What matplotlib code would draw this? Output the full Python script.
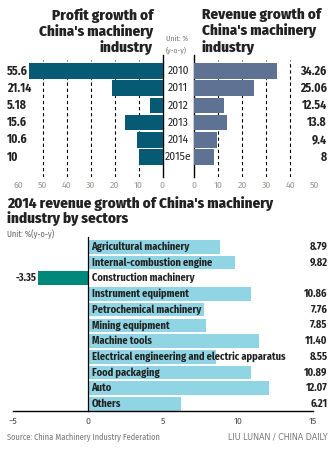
import matplotlib
matplotlib.use("Agg")
import matplotlib.pyplot as plt
import matplotlib.transforms as mtransforms

plt.rcParams['font.family'] = ['Fira Sans Condensed', 'DejaVu Sans']

years = ["2010", "2011", "2012", "2013", "2014", "2015e"]
profit = [55.6, 21.14, 5.18, 15.6, 10.6, 10]
profit_labels = ["55.6", "21.14", "5.18", "15.6", "10.6", "10"]
revenue = [34.26, 25.06, 12.54, 13.8, 9.4, 8]
revenue_labels = ["34.26", "25.06", "12.54", "13.8", "9.4", "8"]

sectors = ["Agricultural machinery", "Internal-combustion engine",
           "Construction machinery", "Instrument equipment",
           "Petrochemical machinery", "Mining equipment", "Machine tools",
           "Electrical engineering and electric apparatus", "Food packaging",
           "Auto", "Others"]
sector_growth = [8.79, 9.82, -3.35, 10.86, 7.76, 7.85, 11.40, 8.55, 10.89, 12.07, 6.21]
sector_labels = ["8.79", "9.82", "-3.35", "10.86", "7.76", "7.85", "11.40",
                 "8.55", "10.89", "12.07", "6.21"]

W, H = 335, 449
DARK = "#222222"
GREY = "#a09a94"


def box(x0, y0, x1, y1):
    # pixel box (top-left origin) -> figure fraction rect
    return [x0 / W, 1 - y1 / H, (x1 - x0) / W, (y1 - y0) / H]


fig = plt.figure(figsize=(3.35, 4.49), dpi=100)

# profit growth (left, mirrored)
ax1 = fig.add_axes(box(18.5, 55, 162.5, 177))
rows = range(len(years))
ax1.barh(rows, profit, height=0.9, color="#065a73", zorder=3)
ax1.set_xlim(60, 0)
ax1.set_ylim(6.16, -0.93)
for v in [10, 20, 30, 40, 50]:
    ax1.axvline(v, ymax=0.96, color="black", ls=(0, (3, 2.5)), lw=0.8, zorder=1)
for s in ["left", "top", "bottom"]:
    ax1.spines[s].set_visible(False)
ax1.spines["right"].set_linewidth(1.0)
ax1.set_yticks([])
ax1.set_xticks([60, 50, 40, 30, 20, 10, 0])
ax1.tick_params(axis="x", length=0, labelsize=7, labelcolor=GREY, pad=3)
for i, lab in enumerate(profit_labels):
    ax1.text(64.8, i, lab, ha="left", va="center", fontsize=8.5,
             fontweight="bold", color=DARK, clip_on=False)

# revenue growth (right)
ax2 = fig.add_axes(box(194.3, 55, 314.3, 177))
ax2.barh(rows, revenue, height=0.9, color="#5e7393", zorder=3)
ax2.set_xlim(0, 50)
ax2.set_ylim(6.16, -0.93)
for v in [10, 20, 30, 40]:
    ax2.axvline(v, ymax=0.96, color="black", ls=(0, (3, 2.5)), lw=0.8, zorder=1)
for s in ["right", "top", "bottom"]:
    ax2.spines[s].set_visible(False)
ax2.spines["left"].set_linewidth(1.0)
ax2.set_yticks([])
ax2.set_xticks([0, 10, 20, 30, 40, 50])
ax2.tick_params(axis="x", length=0, labelsize=7, labelcolor=GREY, pad=3)
for i, lab in enumerate(revenue_labels):
    ax2.text(55.2, i, lab, ha="right", va="center", fontsize=8.5,
             fontweight="bold", color=DARK, clip_on=False)

# year labels between the two charts
yr_tr = mtransforms.blended_transform_factory(fig.transFigure, ax2.transData)
for i, y in enumerate(years):
    ax2.text(178 / W, i, y, transform=yr_tr, ha="center", va="center",
             fontsize=7.5, color=DARK, family=["Fira Sans", "DejaVu Sans"])

fig.text(153 / W, 1 - 8 / H, "Profit growth of\nChina's machinery\nindustry",
         ha="right", va="top", fontsize=10.8, fontweight=800, color=DARK,
         linespacing=1.12)
fig.text(201.5 / W, 1 - 8 / H, "Revenue growth of\nChina's machinery\nindustry",
         ha="left", va="top", fontsize=10.8, fontweight=800, color=DARK,
         linespacing=1.12)
fig.text(166 / W, 1 - 39 / H, "Unit: %", ha="left", va="center",
         fontsize=5.5, color="#777777")
fig.text(166 / W, 1 - 50 / H, "(y-o-y)", ha="left", va="center",
         fontsize=5.5, color="#777777")

# 2014 revenue growth by sector
fig.text(7 / W, 1 - 196 / H, "2014 revenue growth of China's machinery\nindustry by sectors",
         ha="left", va="top", fontsize=10.8, fontweight=800, color=DARK,
         linespacing=1.02)
fig.text(7 / W, 1 - 234 / H, "Unit: %(y-o-y)", ha="left", va="center",
         fontsize=6, color="#666666")

ax3 = fig.add_axes(box(13, 236.7, 313, 411))
srows = range(len(sectors))
colors = ["#00897b" if v < 0 else "#8fd5e3" for v in sector_growth]
ax3.barh(srows, sector_growth, height=0.87, color=colors, zorder=2)
ax3.set_xlim(-5, 15)
ax3.set_ylim(10.45, -0.64)
for s in ["right", "top"]:
    ax3.spines[s].set_visible(False)
ax3.spines["left"].set_position(("data", 0))
ax3.spines["left"].set_linewidth(0.9)
ax3.spines["bottom"].set_linewidth(1.0)
ax3.set_yticks([])
ax3.set_xticks([-5, 0, 5, 10, 15])
ax3.tick_params(axis="x", length=0, labelsize=7, labelcolor="#555555", pad=4)
for i, (name, v, lab) in enumerate(zip(sectors, sector_growth, sector_labels)):
    ax3.text(0.24, i, name, ha="left", va="center", fontsize=7.5,
             fontweight="bold", color=DARK, zorder=4)
    if v < 0:
        ax3.text(v - 0.1, i, lab, ha="right", va="center", fontsize=7.5,
                 fontweight="bold", color=DARK)
    else:
        ax3.text(15.98, i, lab, ha="right", va="center", fontsize=7.5,
                 fontweight="bold", color=DARK, clip_on=False)

fig.text(7 / W, 1 - 437 / H, "Source: China Machinery Industry Federation",
         ha="left", va="center", fontsize=6, color="#777777")
fig.text(327.7 / W, 1 - 437 / H, "LIU LUNAN / CHINA DAILY",
         ha="right", va="center", fontsize=5.8, color="#777777",
         family="DejaVu Sans")

fig.savefig("out.png", dpi=100)
